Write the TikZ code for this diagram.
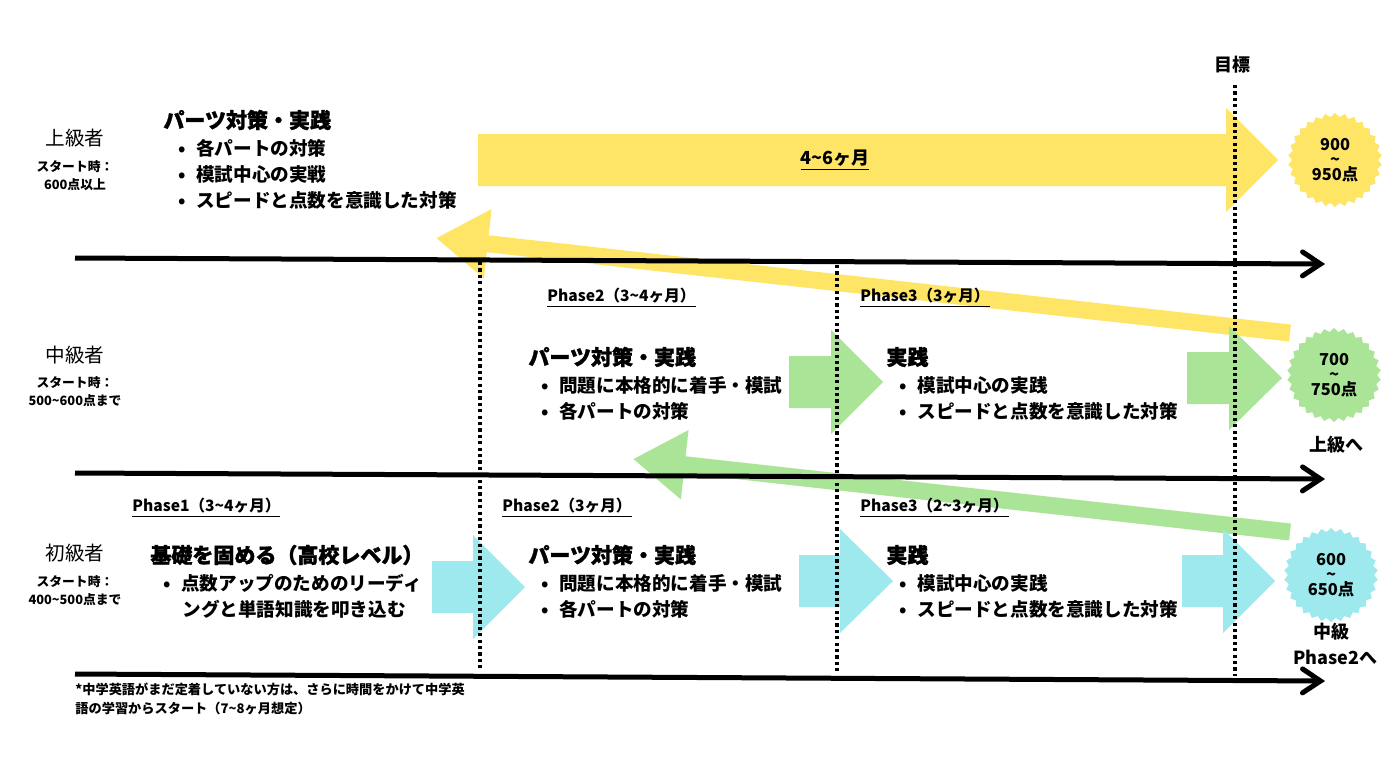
\documentclass[tikz,border=0pt]{standalone}
\usepackage{fontspec}
\setmainfont{Noto Sans CJK JP}
\newfontfamily\heavyfont{Noto Sans CJK JP}[FakeBold=1.5]
\usetikzlibrary{arrows.meta,shapes.geometric}

\definecolor{tyellow}{RGB}{255,229,102}
\definecolor{tgreen}{RGB}{170,228,150}
\definecolor{tcyan}{RGB}{157,233,238}
\newcommand{\tld}{\textasciitilde}

\tikzset{
  tline/.style={line width=2.5pt,-{Straight Barb[length=9pt,width=12pt,line cap=round]}},
  vdot/.style={line width=2pt,dash pattern=on 1.6pt off 1.6pt},
  back/.style={line width=8.5pt,-{Triangle[length=26pt,width=33pt]}},
  burst/.style={star,star points=30,star point ratio=1.09,minimum size=47pt,inner sep=0pt,
    align=center,font=\bfseries\fontsize{8.2}{8}\selectfont},
  lvl/.style={font=\fontsize{9.8}{11}\selectfont},
  lvlsub/.style={align=center,font=\bfseries\fontsize{6.4}{9}\selectfont},
  phase/.style={anchor=west,inner sep=0pt,font=\bfseries\fontsize{7.8}{9}\selectfont},
  head/.style={anchor=west,inner sep=0pt,font=\heavyfont\bfseries\fontsize{10.5}{12}\selectfont},
  bul/.style={anchor=west,inner sep=0pt,font=\bfseries\fontsize{9.3}{11}\selectfont,
    execute at begin node={\makebox[9pt][l]{•}}},
  cont/.style={anchor=west,inner sep=0pt,font=\bfseries\fontsize{9.3}{11}\selectfont},
  note/.style={font=\bfseries\fontsize{9}{11}\selectfont}
}

\begin{document}
\begin{tikzpicture}[x=0.5pt,y=-0.5pt]
  \fill[white] (0,0) rectangle (1400,756);
  \useasboundingbox (0,0) rectangle (1400,756);

  % arrows going back to the upper level
  \draw[back,tyellow] (1290,333) -- (436,238);
  \draw[back,tgreen] (1290,532) -- (633,459);

  % block arrows
  \foreach \c/\xa/\xb/\xc/\yc in {tyellow/478/1226/1278/160,
      tgreen/789/831/883/382, tgreen/1187/1229/1282/378,
      tcyan/432/473/525/587, tcyan/799/840/893/581, tcyan/1182/1223/1275/581}
    \fill[\c] (\xa,\yc-26) -- (\xb,\yc-26) -- (\xb,\yc-52) -- (\xc,\yc)
      -- (\xb,\yc+52) -- (\xb,\yc+26) -- (\xa,\yc+26) -- cycle;

  % phase borders
  \draw[vdot] (480,262) -- (480,671);
  \draw[vdot] (837,265) -- (837,671);
  \draw[vdot] (1235,85) -- (1235,676);

  % time lines
  \draw[tline] (75,258) -- (1325,264);
  \draw[tline] (75,473) -- (1325,479);
  \draw[tline] (75,674) -- (1325,681);

  \node[note] (goal) at (1232,65) {目標};
  \node[note] (span) at (835,160) {\underline{4\tld6ヶ月}};

  % targets
  \node[burst,fill=tyellow] (t1) at (1335,160) {900\\[-0.5pt]\tld\\[-0.5pt]950点};
  \node[burst,fill=tgreen] (t2) at (1334,375) {700\\[-0.5pt]\tld\\[-0.5pt]750点};
  \node[burst,fill=tcyan] (t3) at (1331,575) {600\\[-0.5pt]\tld\\[-0.5pt]650点};
  \node[note] (n2) at (1336,445) {上級へ};
  \node[note] (n3a) at (1331,632) {中級};
  \node[note] (n3b) at (1335,657) {Phase2へ};

  % levels
  \node[lvl] (up) at (75,138) {上級者};
  \node[lvlsub] (upS) at (75,176) {スタート時：\\600点以上};
  \node[lvl] (mid) at (75,355) {中級者};
  \node[lvlsub] (midS) at (75,392) {スタート時：\\500\tld600点まで};
  \node[lvl] (low) at (75,553) {初級者};
  \node[lvlsub] (lowS) at (75,591) {スタート時：\\400\tld500点まで};

  % phase labels
  \node[phase] (p1) at (132,508) {\underline{Phase1（3\tld4ヶ月）}};
  \node[phase] (p2) at (502,508) {\underline{Phase2（3ヶ月）}};
  \node[phase] (p3) at (860,508) {\underline{Phase3（2\tld3ヶ月）}};
  \node[phase] (q2) at (547,298) {\underline{Phase2（3\tld4ヶ月）}};
  \node[phase] (q3) at (860,298) {\underline{Phase3（3ヶ月）}};

  % upper level
  \node[head] (upH) at (163,120) {パーツ対策・実践};
  \foreach \y/\t in {148/各パートの対策,174/模試中心の実戦,200/スピードと点数を意識した対策}
    \node[bul] (upB\y) at (178,\y) {\t};

  % middle level
  \node[head] (midH1) at (528,357) {パーツ対策・実践};
  \node[head] (midH2) at (886,357) {実践};
  \foreach \y/\t/\u in {385/問題に本格的に着手・模試/模試中心の実践,411/各パートの対策/スピードと点数を意識した対策}{
    \node[bul] (midB\y) at (541,\y) {\t};
    \node[bul] (midC\y) at (899,\y) {\u};}

  % lower level
  \node[head] (lowH1) at (150,555) {基礎を固める（高校レベル）};
  \node[bul] (lowA) at (163,583) {点数アップのためのリーディ};
  \node[cont] (lowA2) at (182,609) {ングと単語知識を叩き込む};
  \node[head] (lowH2) at (528,555) {パーツ対策・実践};
  \node[head] (lowH3) at (886,555) {実践};
  \foreach \y/\t/\u in {583/問題に本格的に着手・模試/模試中心の実践,609/各パートの対策/スピードと点数を意識した対策}{
    \node[bul] (lowB\y) at (541,\y) {\t};
    \node[bul] (lowC\y) at (899,\y) {\u};}

  \node[anchor=west,inner sep=0pt,align=left,font=\bfseries\fontsize{6.6}{9.5}\selectfont] (foot) at (75,699)
    {*中学英語がまだ定着していない方は、さらに時間をかけて中学英\\語の学習からスタート（7\tld8ヶ月想定）};
\end{tikzpicture}
\end{document}
